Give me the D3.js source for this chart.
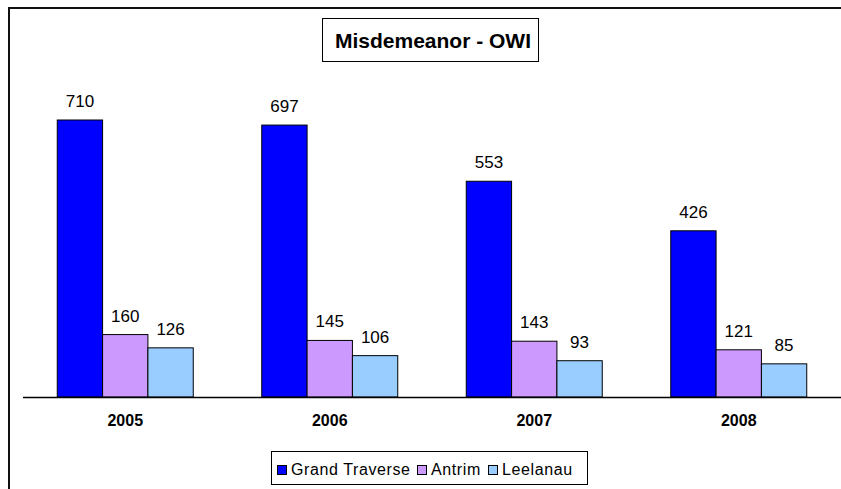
<!DOCTYPE html>
<html><head><meta charset="utf-8">
<script src="https://cdn.jsdelivr.net/npm/d3@7"></script>
<style>body{margin:0;background:#fff;overflow:hidden}svg{display:block}text{font-family:Arial,"Liberation Sans",sans-serif}</style>
</head><body><svg id="c" width="841" height="489"></svg>
<script>
const categories = ["2005","2006","2007","2008"];
const seriesNames = ["Grand Traverse","Antrim","Leelanau"];
const grandTraverse = [710,697,553,426];
const antrim = [160,145,143,121];
const leelanau = [126,106,93,85];
const colors = ["#0000FF","#CC99FF","#99CCFF"];
const title = "Misdemeanor - OWI";

const seriesVals = [grandTraverse, antrim, leelanau];
const svg = d3.select("#c");
svg.append("rect").attr("x",0).attr("y",0).attr("width",841).attr("height",489).attr("fill","#fff");
// outer chart border
svg.append("path").attr("d","M9,489 L9,8 L841,8").attr("fill","none").attr("stroke","#111").attr("stroke-width",2);

const baseY = 397;
const y = d3.scaleLinear().domain([0,710]).range([baseY, 120]);
const x = d3.scaleBand().domain(categories).range([23,841]).paddingInner(0.335).paddingOuter(0.1675);
const xs = d3.scaleBand().domain(seriesNames).range([0,x.bandwidth()]);

const g = svg.append("g");
categories.forEach((c,i)=>{
  seriesNames.forEach((s,j)=>{
    const v = seriesVals[j][i];
    g.append("rect").attr("x",x(c)+xs(s)).attr("y",y(v)).attr("width",xs.bandwidth()).attr("height",baseY-y(v))
      .attr("fill",colors[j]).attr("stroke","#000").attr("stroke-width",1);
    g.append("text").attr("x",x(c)+xs(s)+xs.bandwidth()/2).attr("y",y(v)-13).attr("text-anchor","middle")
      .attr("font-size",17).attr("fill","#000").text(v);
  });
});
// axis
const axis = svg.append("g").attr("transform",`translate(0,${baseY})`).call(d3.axisBottom(x).tickSize(0).tickPadding(18));
axis.select(".domain").attr("stroke","#000").attr("stroke-width",1.3).attr("d","M23,0.5H841");
axis.selectAll("text").attr("font-size",16).attr("font-weight","bold").attr("fill","#000").attr("font-family","Arial, 'Liberation Sans', sans-serif");

// title
const tg = svg.append("g");
tg.append("rect").attr("x",322.5).attr("y",18.5).attr("width",216).attr("height",43).attr("fill","#fff").attr("stroke","#000").attr("stroke-width",1);
tg.append("text").attr("x",433).attr("y",48).attr("text-anchor","middle").attr("font-size",21).attr("font-weight","bold").text(title);

// legend
const lg = svg.append("g");
lg.append("rect").attr("x",271.5).attr("y",451.5).attr("width",316).attr("height",33).attr("fill","#fff").attr("stroke","#000").attr("stroke-width",1);
const legX = [277, 417, 488];
seriesNames.forEach((s,j)=>{
  lg.append("rect").attr("x",legX[j]+0.5).attr("y",465.5).attr("width",9).attr("height",9).attr("fill",colors[j]).attr("stroke","#000").attr("stroke-width",1);
  lg.append("text").attr("x",legX[j]+14).attr("y",475).attr("font-size",16).attr("letter-spacing",0.6).text(s);
});
</script></body></html>
